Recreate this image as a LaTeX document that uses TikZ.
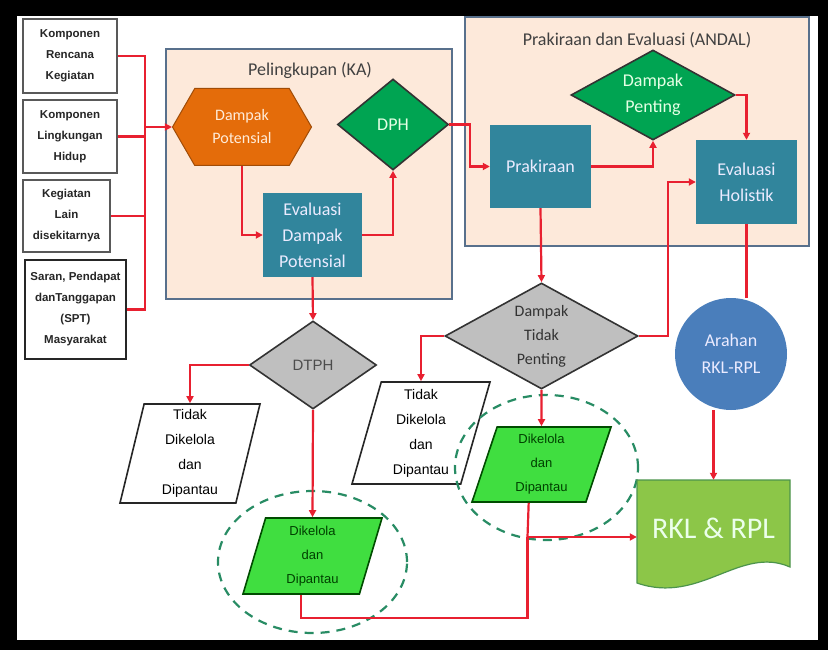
\documentclass[tikz,border=0pt]{standalone}
\usepackage{fontspec}
\setmainfont{Carlito}
\newfontfamily\arialfont{Liberation Sans}
\usetikzlibrary{shapes.geometric,shapes.symbols,arrows.meta}

\definecolor{arrowred}{RGB}{232,32,48}
\definecolor{panelfill}{RGB}{253,233,218}
\definecolor{panelline}{RGB}{88,112,140}
\definecolor{hexorange}{RGB}{228,108,10}
\definecolor{diagreen}{RGB}{0,164,82}
\definecolor{boxteal}{RGB}{49,133,156}
\definecolor{diagray}{RGB}{191,191,191}
\definecolor{paragreen}{RGB}{64,222,64}
\definecolor{ringgreen}{RGB}{40,140,100}
\definecolor{docgreen}{RGB}{140,198,72}
\definecolor{circblue}{RGB}{74,126,187}

\begin{document}
\begin{tikzpicture}[x=1pt, y=-1pt,
  inbox/.style={draw=gray!70!black, line width=1.5pt, fill=white, align=center, inner sep=1pt,
    font=\arialfont\bfseries\fontsize{11.5}{21}\selectfont, text=black!85},
  panel/.style={draw=panelline, line width=2pt, fill=panelfill},
  title/.style={font=\fontsize{18}{22}\selectfont, text=black!75},
  tealbox/.style={fill=boxteal, align=center, inner sep=1pt, text=blue!8,
    font=\fontsize{18}{26}\selectfont},
  decide/.style={diamond, draw=black!80, line width=1.6pt, align=center, inner sep=0pt},
  para/.style={trapezium, trapezium stretches body=true, draw=black!85, line width=1.6pt,
    align=center, inner sep=1pt, font=\arialfont\fontsize{14}{25}\selectfont},
  ring/.style={ellipse, draw=ringgreen, dashed, dash pattern=on 9pt off 7pt, line width=2.2pt},
  link/.style={draw=arrowred, line width=2.2pt},
  >={Triangle[length=7pt,width=7pt]}
]
\useasboundingbox (0,0) rectangle (828,650);
% frame
\fill[black] (0,0) rectangle (828,650);
\fill[white] (17,16) rectangle (818,640);

% panels
\node[panel, minimum width=286pt, minimum height=250pt] (ka) at (309,174) {};
\node[title] (katitle) at (310,70) {Pelingkupan (KA)};
\node[panel, minimum width=344pt, minimum height=229pt] (andal) at (637,131.5) {};
\node[title] (andaltitle) at (637,40) {Prakiraan dan Evaluasi (ANDAL)};

% inputs
\node[inbox, minimum width=94pt, minimum height=74pt] (k1) at (70,56) {Komponen\\Rencana\\Kegiatan};
\node[inbox, minimum width=94pt, minimum height=73pt] (k2) at (70,136.5) {Komponen\\Lingkungan\\Hidup};
\node[inbox, minimum width=87pt, minimum height=72pt] (k3) at (66.5,216) {Kegiatan\\Lain\\disekitarnya};
\node[inbox, draw=black!85, minimum width=101pt, minimum height=99pt] (k4) at (75.5,309.5) {Saran, Pendapat\\danTanggapan\\(SPT)\\Masyarakat};
\coordinate (bus) at (145,127);

% pelingkupan
\node[signal, signal to=west and east, signal pointer angle=120, fill=hexorange, draw=hexorange!70!black,
  line width=1pt, minimum width=139pt, minimum height=77pt, inner sep=0pt, align=center,
  text=orange!15, font=\fontsize{16}{23}\selectfont] (dp) at (242,127) {Dampak\\Potensial};
\node[decide, fill=diagreen, minimum width=111pt, minimum height=91pt, text=green!10,
  font=\fontsize{18}{22}\selectfont] (dph) at (393,124.5) {DPH};
\node[tealbox, minimum width=99pt, minimum height=84pt] (edp) at (312.5,235) {Evaluasi\\Dampak\\Potensial};

% andal
\node[tealbox, minimum width=101pt, minimum height=83pt] (pra) at (540.5,166.5) {Prakiraan};
\node[decide, fill=diagreen, aspect=1.8, minimum width=164pt, minimum height=90pt, text=green!10,
  font=\fontsize{18}{26}\selectfont] (dpen) at (653,95) {Dampak\\Penting};
\node[tealbox, minimum width=101pt, minimum height=84pt] (eh) at (746.5,182) {Evaluasi\\Holistik};

% lower part
\node[decide, fill=diagray, aspect=1.4, minimum width=127pt, minimum height=88pt, text=black!70,
  font=\arialfont\fontsize{15}{20}\selectfont] (dtph) at (313,365) {DTPH};
\node[decide, fill=diagray, aspect=1.8, minimum width=193pt, minimum height=106pt, text=black!80,
  font=\fontsize{16}{24}\selectfont] (dtp) at (541.5,336) {Dampak\\Tidak\\Penting};
\node[para, fill=white, trapezium left angle=75, trapezium right angle=105,
  minimum width=140pt, minimum height=99pt] (tdk1) at (190,453.5) {Tidak\\Dikelola\\dan\\Dipantau};
\node[para, fill=white, trapezium left angle=72, trapezium right angle=108,
  minimum width=138pt, minimum height=102pt] (tdk2) at (421,433) {Tidak\\Dikelola\\dan\\Dipantau};
\node[para, fill=paragreen, draw=green!30!black, text=green!25!black, trapezium left angle=70,
  trapezium right angle=110, minimum width=139pt, minimum height=76pt,
  font=\arialfont\fontsize{13}{24}\selectfont] (dk1) at (312.5,556) {Dikelola\\dan\\Dipantau};
\node[para, fill=paragreen, draw=green!30!black, text=green!25!black, trapezium left angle=68,
  trapezium right angle=112, minimum width=139pt, minimum height=75pt,
  font=\arialfont\fontsize{13}{24}\selectfont] (dk2) at (541.5,464.5) {Dikelola\\dan\\Dipantau};
\node[ring, minimum width=189pt, minimum height=142pt] (ring1) at (312.5,562) {};
\node[ring, minimum width=183pt, minimum height=145pt] (ring2) at (546.5,467.5) {};

\node[circle, fill=circblue, minimum size=112pt, align=center, text=blue!8,
  font=\fontsize{18}{27}\selectfont] (arahan) at (731,354) {Arahan\\RKL-RPL};

% document shape
\draw[fill=docgreen, draw=green!40!black!70, line width=1.2pt] (637,480) -- (790,480) -- (790,567)
  .. controls (740,545) and (700,605) .. (637,583) -- cycle;
\node[minimum width=153pt, minimum height=96pt, text=green!8, font=\fontsize{30}{34}\selectfont] (rkl) at (713.5,528) {RKL \& RPL};
\coordinate (merge) at (527.5,537);

% connectors
\draw[link] (k1.east) -| (bus);
\draw[link] (k2.east) -| (bus);
\draw[link] (k3.east) -| (bus);
\draw[link] (k4.east) -| (bus);
\draw[link,->] (bus) -- (dp.west);
\draw[link,->] (dp.south) |- (edp.west);
\draw[link,->] (edp.east) -| (dph.south);
\draw[link,->] (dph.east) -- ++(21,0) |- (pra.west);
\draw[link,->] (pra.east) -| (dpen.south);
\draw[link,->] (dpen.east) -| (eh.north);
\draw[link,->] (pra.south) -- (dtp.north);
\draw[link,->] (dtp.east) -- ++(29,0) |- (eh.west);
\draw[link,->] (dtp.west) -| (tdk2.north);
\draw[link,->] (dtp.south) -- (dk2.north);
\draw[link,->] (edp.south) -- (dtph.north);
\draw[link,->] (dtph.west) -| (tdk1.north);
\draw[link,->] (dtph.south) -- (dk1.north);
\draw[link] (eh.south) -- (eh.south |- arahan.north);
\draw[link,->] (rkl.north |- arahan.south) -- (rkl.north);
\draw[link] (dk1.bottom side) -- ++(0,23) -| (merge);
\draw[link] (dk2.bottom side) -- (merge);
\draw[link,->] (merge) -- (merge -| rkl.west);

\end{tikzpicture}
\end{document}
